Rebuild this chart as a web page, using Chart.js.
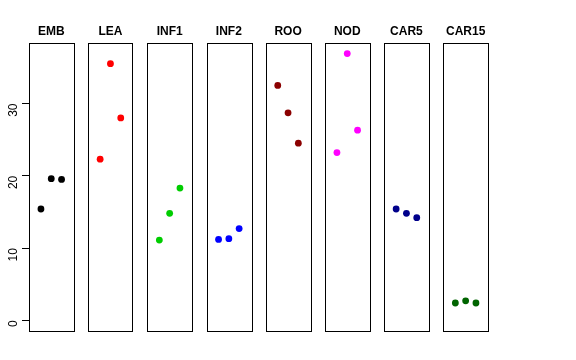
<!DOCTYPE html>
<html>
<head>
<meta charset="utf-8">
<script src="https://cdn.jsdelivr.net/npm/chart.js@4"></script>
<style>
html,body{margin:0;padding:0;background:#fff;}
#wrap{position:relative;width:576px;height:360px;}
#wrap canvas{position:absolute;left:0;top:0;}
</style>
</head>
<body>
<div id="wrap"></div>
<script>
// ---- data ----
const categories = ["EMB","LEA","INF1","INF2","ROO","NOD","CAR5","CAR15"];
const replicate = [1, 2, 3];
const EMB   = [15.4, 19.6, 19.5];
const LEA   = [22.3, 35.5, 28.0];
const INF1  = [11.1, 14.8, 18.3];
const INF2  = [11.2, 11.3, 12.7];
const ROO   = [32.5, 28.7, 24.5];
const NOD   = [23.2, 36.9, 26.3];
const CAR5  = [15.4, 14.8, 14.2];
const CAR15 = [2.4, 2.7, 2.4];
const yTicks = [0, 10, 20, 30];
const series = [EMB, LEA, INF1, INF2, ROO, NOD, CAR5, CAR15];
const colors = ["#000000","#FF0000","#00CD00","#0000FF","#8B0000","#FF00FF","#00008B","#006400"];

// ---- layout ----
const W = 576, H = 360;
const firstLeft = 29, step = 59.2, boxW = 44.5;
const yMin = -1.47, yMax = 38.32;
const font = "'Liberation Sans', Arial, Helvetica, sans-serif";

const boxPlugin = {
  id: 'box',
  afterDraw(chart) {
    const a = chart.chartArea, ctx = chart.ctx;
    ctx.save();
    ctx.strokeStyle = '#000';
    ctx.lineWidth = 1;
    ctx.strokeRect(Math.round(a.left) + 0.5, Math.round(a.top) + 0.5,
                   Math.round(a.right - a.left), Math.round(a.bottom - a.top));
    ctx.restore();
  }
};

const wrap = document.getElementById('wrap');
categories.forEach((cat, i) => {
  const c = document.createElement('canvas');
  c.width = W; c.height = H;
  c.style.width = W + 'px'; c.style.height = H + 'px';
  wrap.appendChild(c);
  const left = firstLeft + i * step;
  const isFirst = i === 0;
  new Chart(c, {
    type: 'scatter',
    data: {
      datasets: [{
        data: replicate.map((x, k) => ({x: x, y: series[i][k]})),
        backgroundColor: colors[i],
        borderWidth: 0,
        pointRadius: 3.4,
        pointHoverRadius: 3.4
      }]
    },
    options: {
      responsive: false,
      animation: false,
      events: [],
      layout: {
        padding: {
          left: isFirst ? 0 : left,
          right: W - left - boxW,
          top: 0,
          bottom: 29
        }
      },
      plugins: {
        legend: {display: false},
        tooltip: {enabled: false},
        title: {
          display: true,
          text: cat,
          fullSize: false,
          color: '#000',
          font: {family: font, size: 12, weight: 'bold', lineHeight: 1.2},
          padding: {top: 24.3, bottom: 4.6}
        }
      },
      scales: {
        x: {
          type: 'linear', min: -0.16, max: 4.16, display: false
        },
        y: {
          type: 'linear', min: yMin, max: yMax,
          display: isFirst,
          afterFit(s) { if (isFirst) s.width = left; },
          afterBuildTicks(s) { s.ticks = yTicks.map(v => ({value: v})); },
          border: {display: false},
          grid: {display: true, drawOnChartArea: false, drawTicks: true, tickLength: 7, color: '#000', lineWidth: 1},
          ticks: {
            color: '#000',
            font: {family: font, size: 12},
            minRotation: 90, maxRotation: 90,
            padding: 8,
            callback: v => String(v)
          }
        }
      }
    },
    plugins: [boxPlugin]
  });
});
</script>
</body>
</html>
